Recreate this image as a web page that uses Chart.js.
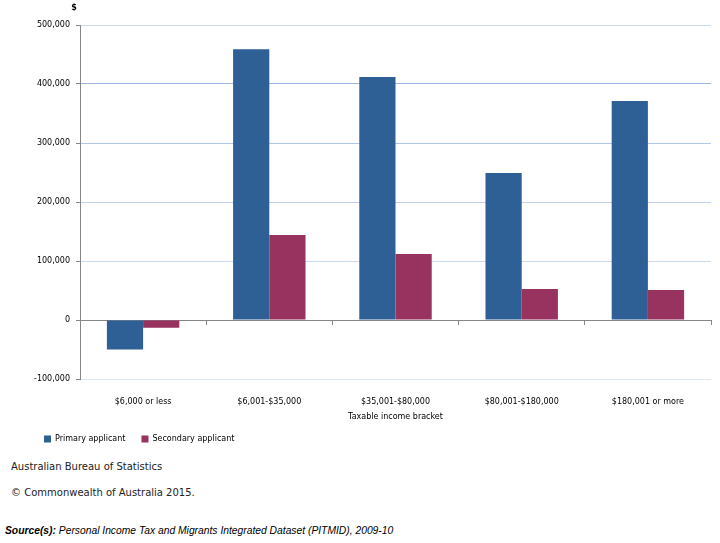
<!DOCTYPE html>
<html lang="en">
<head>
  <meta charset="UTF-8">
  <title>Taxable income bracket</title>
  <script src="https://cdn.jsdelivr.net/npm/chart.js"></script>
  <style>
    body {
      margin: 0;
      background: #ffffff;
      width: 720px;
      height: 543px;
      position: relative;
      overflow: hidden;
    }
    .chart-box {
      position: absolute;
      left: 0;
      top: 0;
      width: 720px;
      height: 453px;
    }
    .note {
      position: absolute;
      font-family: "DejaVu Sans", sans-serif;
      font-size: 10px;
      line-height: 12px;
      color: #222;
      white-space: nowrap;
    }
    .source {
      position: absolute;
      left: 5px;
      top: 525px;
      font-family: "Liberation Sans", Arial, sans-serif;
      font-size: 10.3px;
      line-height: 12px;
      font-style: italic;
      color: #000;
      white-space: nowrap;
    }
  </style>
</head>
<body>

  <div class="chart-box">
    <canvas id="chartTax"></canvas>
  </div>

  <div class="note" style="left:11px; top:461px;">Australian Bureau of Statistics</div>
  <div class="note" style="left:11px; top:487px;">© Commonwealth of Australia 2015.</div>
  <div class="source"><b>Source(s):</b> Personal Income Tax and Migrants Integrated Dataset (PITMID), 2009-10</div>

<script>
  // data
  const brackets = ['$6,000 or less', '$6,001-$35,000', '$35,001-$80,000', '$80,001-$180,000', '$180,001 or more'];
  const primaryApplicant = [-50000, 459000, 412000, 249000, 371000];
  const secondaryApplicant = [-13000, 144000, 112000, 52500, 51000];
  const yTicks = [-100000, 0, 100000, 200000, 300000, 400000, 500000];

  // gridline shades, bottom to top (the 0 line is grey)
  const gridShade = ['#dde7f3', '#868686', '#c9d9ef', '#bfd0ec', '#b2c6e8', '#9fb7df'];

  Chart.defaults.font.family = '"DejaVu Sans", sans-serif';
  Chart.defaults.font.size = 8;
  Chart.defaults.color = '#000';

  // the "$" unit above the y axis
  const unitLabel = {
    id: 'unitLabel',
    afterDraw(chart) {
      const ctx = chart.ctx;
      ctx.save();
      ctx.font = 'bold 8px "DejaVu Sans", sans-serif';
      ctx.fillStyle = '#000';
      ctx.textAlign = 'center';
      ctx.textBaseline = 'middle';
      ctx.fillText('$', chart.chartArea.left - 6, chart.chartArea.top - 17);
      ctx.restore();
    }
  };

  new Chart(document.getElementById('chartTax'), {
    type: 'bar',
    data: {
      labels: brackets,
      datasets: [
        {
          label: 'Primary applicant',
          data: primaryApplicant,
          backgroundColor: '#2e6095',
          borderWidth: 0
        },
        {
          label: 'Secondary applicant',
          data: secondaryApplicant,
          backgroundColor: '#98335f',
          borderWidth: 0
        }
      ]
    },
    options: {
      responsive: true,
      maintainAspectRatio: false,
      animation: false,
      categoryPercentage: 0.574,
      barPercentage: 1,
      layout: {
        padding: { left: 28, right: 9, top: 25, bottom: 0 }
      },
      plugins: {
        tooltip: { enabled: false },
        legend: {
          position: 'bottom',
          align: 'start',
          labels: {
            boxWidth: 7,
            boxHeight: 7,
            padding: 16,
            font: { size: 8 }
          }
        }
      },
      scales: {
        x: {
          grid: { display: false, drawTicks: false, tickLength: 0 },
          border: { display: false },
          ticks: { padding: 18, maxRotation: 0, autoSkip: false },
          title: {
            display: true,
            text: 'Taxable income bracket',
            padding: { top: 4, bottom: -3 }
          },
          afterFit(scale) {
            scale.height = 40;
          }
        },
        xTicks: {
          type: 'category',
          position: { y: 0 },
          grid: {
            offset: true,
            drawOnChartArea: false,
            drawTicks: true,
            tickLength: 4,
            tickColor: '#868686'
          },
          border: { display: true, color: '#868686' },
          ticks: { display: false }
        },
        y: {
          min: yTicks[0],
          max: yTicks[yTicks.length - 1],
          afterBuildTicks(scale) {
            scale.ticks = yTicks.map(v => ({ value: v }));
          },
          afterFit(scale) {
            scale.width = 52;
          },
          grid: {
            color: ctx => gridShade[ctx.index] || '#c9d9ef',
            tickLength: 4,
            tickColor: '#868686'
          },
          border: { display: true, color: '#868686' },
          ticks: {
            padding: 6,
            callback: v => v.toLocaleString('en-US')
          }
        }
      }
    },
    plugins: [unitLabel]
  });
</script>

</body>
</html>
